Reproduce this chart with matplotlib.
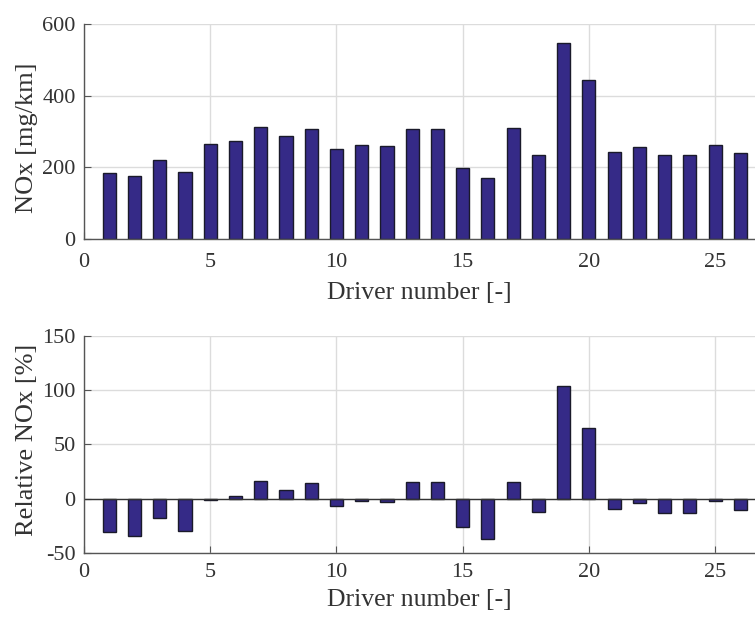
import numpy as np
import matplotlib
matplotlib.use("Agg")
import matplotlib.pyplot as plt

# values
drivers = np.arange(1, 27)
nox = [185, 177, 220, 188, 264, 273, 312, 288, 307, 251, 261, 260, 308,
       308, 197, 169, 311, 234, 548, 444, 244, 257, 234, 234, 262, 241]
rel_nox = [-30.2, -33.9, -17.9, -29.6, -1.5, 2.2, 16.4, 7.7, 14.5, -6.5, -2.5, -3.1, 15.2,
           15.2, -26.2, -37.0, 15.7, -12.6, 103.7, 65.5, -9.3, -4.3, -13.0, -13.0, -2.1, -10.2]
x_ticks = [0, 5, 10, 15, 20, 25]

bar_color = "#352a87"
plt.rcParams["font.family"] = ["Liberation Serif", "DejaVu Serif"]
plt.rcParams["axes.unicode_minus"] = False

fig = plt.figure(figsize=(7.55, 6.17), dpi=100)
ax1 = fig.add_axes([0.1113, 0.6126, 0.8887, 0.3485])
ax2 = fig.add_axes([0.1113, 0.1037, 0.8887, 0.3518])


def style(ax, ylim, yticks, ylabel, ylabel_y, xpad, lpad):
    ax.set_xlim(0, 26.58)
    ax.set_ylim(*ylim)
    ax.set_xticks(x_ticks)
    ax.set_yticks(yticks)
    ax.grid(True, color="#dcdcdc", linewidth=1.0)
    ax.set_axisbelow(True)
    for s in ["top", "right"]:
        ax.spines[s].set_visible(False)
    for s in ["left", "bottom"]:
        ax.spines[s].set_color("#555555")
        ax.spines[s].set_linewidth(1.0)
    ax.tick_params(direction="in", length=5, color="#555555", labelsize=16,
                   labelcolor="#333333")
    ax.tick_params(axis="x", pad=xpad)
    ax.tick_params(axis="y", pad=6)
    ax.set_xlabel("Driver number [-]", fontsize=18.5, color="#333333", labelpad=lpad)
    ax.set_ylabel(ylabel, fontsize=19, color="#333333")
    ax.yaxis.set_label_coords(-0.069, ylabel_y)


ax1.bar(drivers, nox, width=0.52, color=bar_color, edgecolor="#1a1a2a", linewidth=1.0)
style(ax1, (0, 600), [0, 200, 400, 600], "NOx [mg/km]", 0.47, 10, 7)

ax2.bar(drivers, rel_nox, width=0.52, color=bar_color, edgecolor="#1a1a2a", linewidth=1.0)
ax2.axhline(0, color="#333333", linewidth=1.0, zorder=1.5)
style(ax2, (-50, 150), [-50, 0, 50, 100, 150], "Relative NOx [%]", 0.52, 7, 5)

fig.savefig("out.png", dpi=100)
